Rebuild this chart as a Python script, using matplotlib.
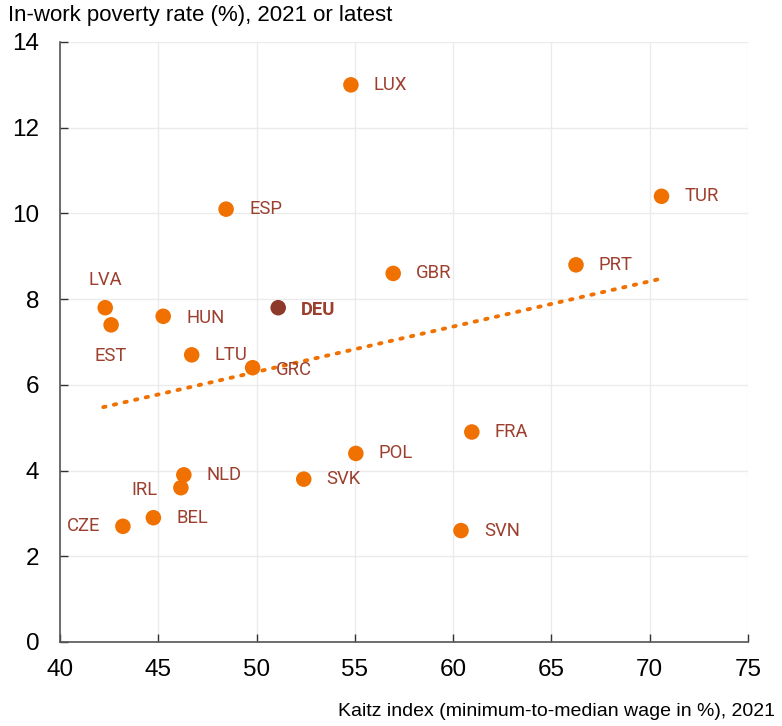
import matplotlib
matplotlib.use('Agg')
import matplotlib.pyplot as plt

plt.rcParams['font.family'] = ['Liberation Sans', 'DejaVu Sans']

countries = ['LUX', 'ESP', 'TUR', 'GBR', 'PRT', 'LVA', 'EST', 'HUN', 'DEU', 'LTU',
             'GRC', 'FRA', 'POL', 'NLD', 'SVK', 'IRL', 'BEL', 'CZE', 'SVN']
kaitz = [54.8, 48.45, 70.6, 56.95, 66.25, 42.3, 42.6, 45.25, 51.1, 46.7,
         49.8, 60.95, 55.05, 46.3, 52.4, 46.15, 44.75, 43.2, 60.4]
poverty = [13.0, 10.1, 10.4, 8.6, 8.8, 7.8, 7.4, 7.6, 7.8, 6.7,
           6.4, 4.9, 4.4, 3.9, 3.8, 3.6, 2.9, 2.7, 2.6]
trend_x = [42.2, 70.7]
trend_y = [5.48, 8.49]

orange = '#f07000'
dark = '#8e3a2b'
label_col = '#9c3f2e'

# label offsets in pixels (dx, dy, ha)
offsets = {'LVA': (0, 28, 'center'), 'EST': (0, -31, 'center'),
           'IRL': (-23, -2, 'right'), 'CZE': (-23, 0, 'right'),
           'GRC': (23, -2, 'left'), 'HUN': (23, -2, 'left'), 'DEU': (23, -2, 'left')}

fig = plt.figure(figsize=(7.82, 7.26), dpi=100)
ax = fig.add_axes([60 / 782, 84 / 726, 688 / 782, 600 / 726])

ax.plot(trend_x, trend_y, linestyle=(0, (0.6, 2.2)), color=orange, lw=2.8,
        dash_capstyle='round', zorder=2)

cols = [dark if c == 'DEU' else orange for c in countries]
ax.scatter(kaitz, poverty, s=125, c=cols, edgecolors='none', zorder=3)

for c, x, y in zip(countries, kaitz, poverty):
    dx, dy, ha = offsets.get(c, (23, 0, 'left'))
    ax.annotate(c, (x, y), xytext=(dx * 0.72, dy * 0.72), textcoords='offset points',
                ha=ha, va='center', fontsize=13.3, color=label_col,
                family=['Roboto', 'DejaVu Sans'],
                fontweight='bold' if c == 'DEU' else 'normal')

ax.set_xlim(40, 75)
ax.set_ylim(0, 14)
ax.set_xticks(range(40, 76, 5))
ax.set_yticks(range(0, 15, 2))
ax.grid(True, color='#ebebeb', lw=1)
ax.set_axisbelow(True)
for s in ['top', 'right']:
    ax.spines[s].set_visible(False)
for s in ['left', 'bottom']:
    ax.spines[s].set_color('#555555')
    ax.spines[s].set_linewidth(1.2)
ax.tick_params(axis='both', direction='in', length=6, width=1, color='#333333',
               labelsize=17.5)
ax.tick_params(axis='y', pad=15)
ax.tick_params(axis='x', pad=12)

fig.text(8 / 782, 1 - 15 / 726, 'In-work poverty rate (%), 2021 or latest',
         ha='left', va='center', fontsize=16)
fig.text(775 / 782, 1 - 712 / 726, 'Kaitz index (minimum-to-median wage in %), 2021',
         ha='right', va='center', fontsize=14)

fig.savefig('out.png', dpi=100)
